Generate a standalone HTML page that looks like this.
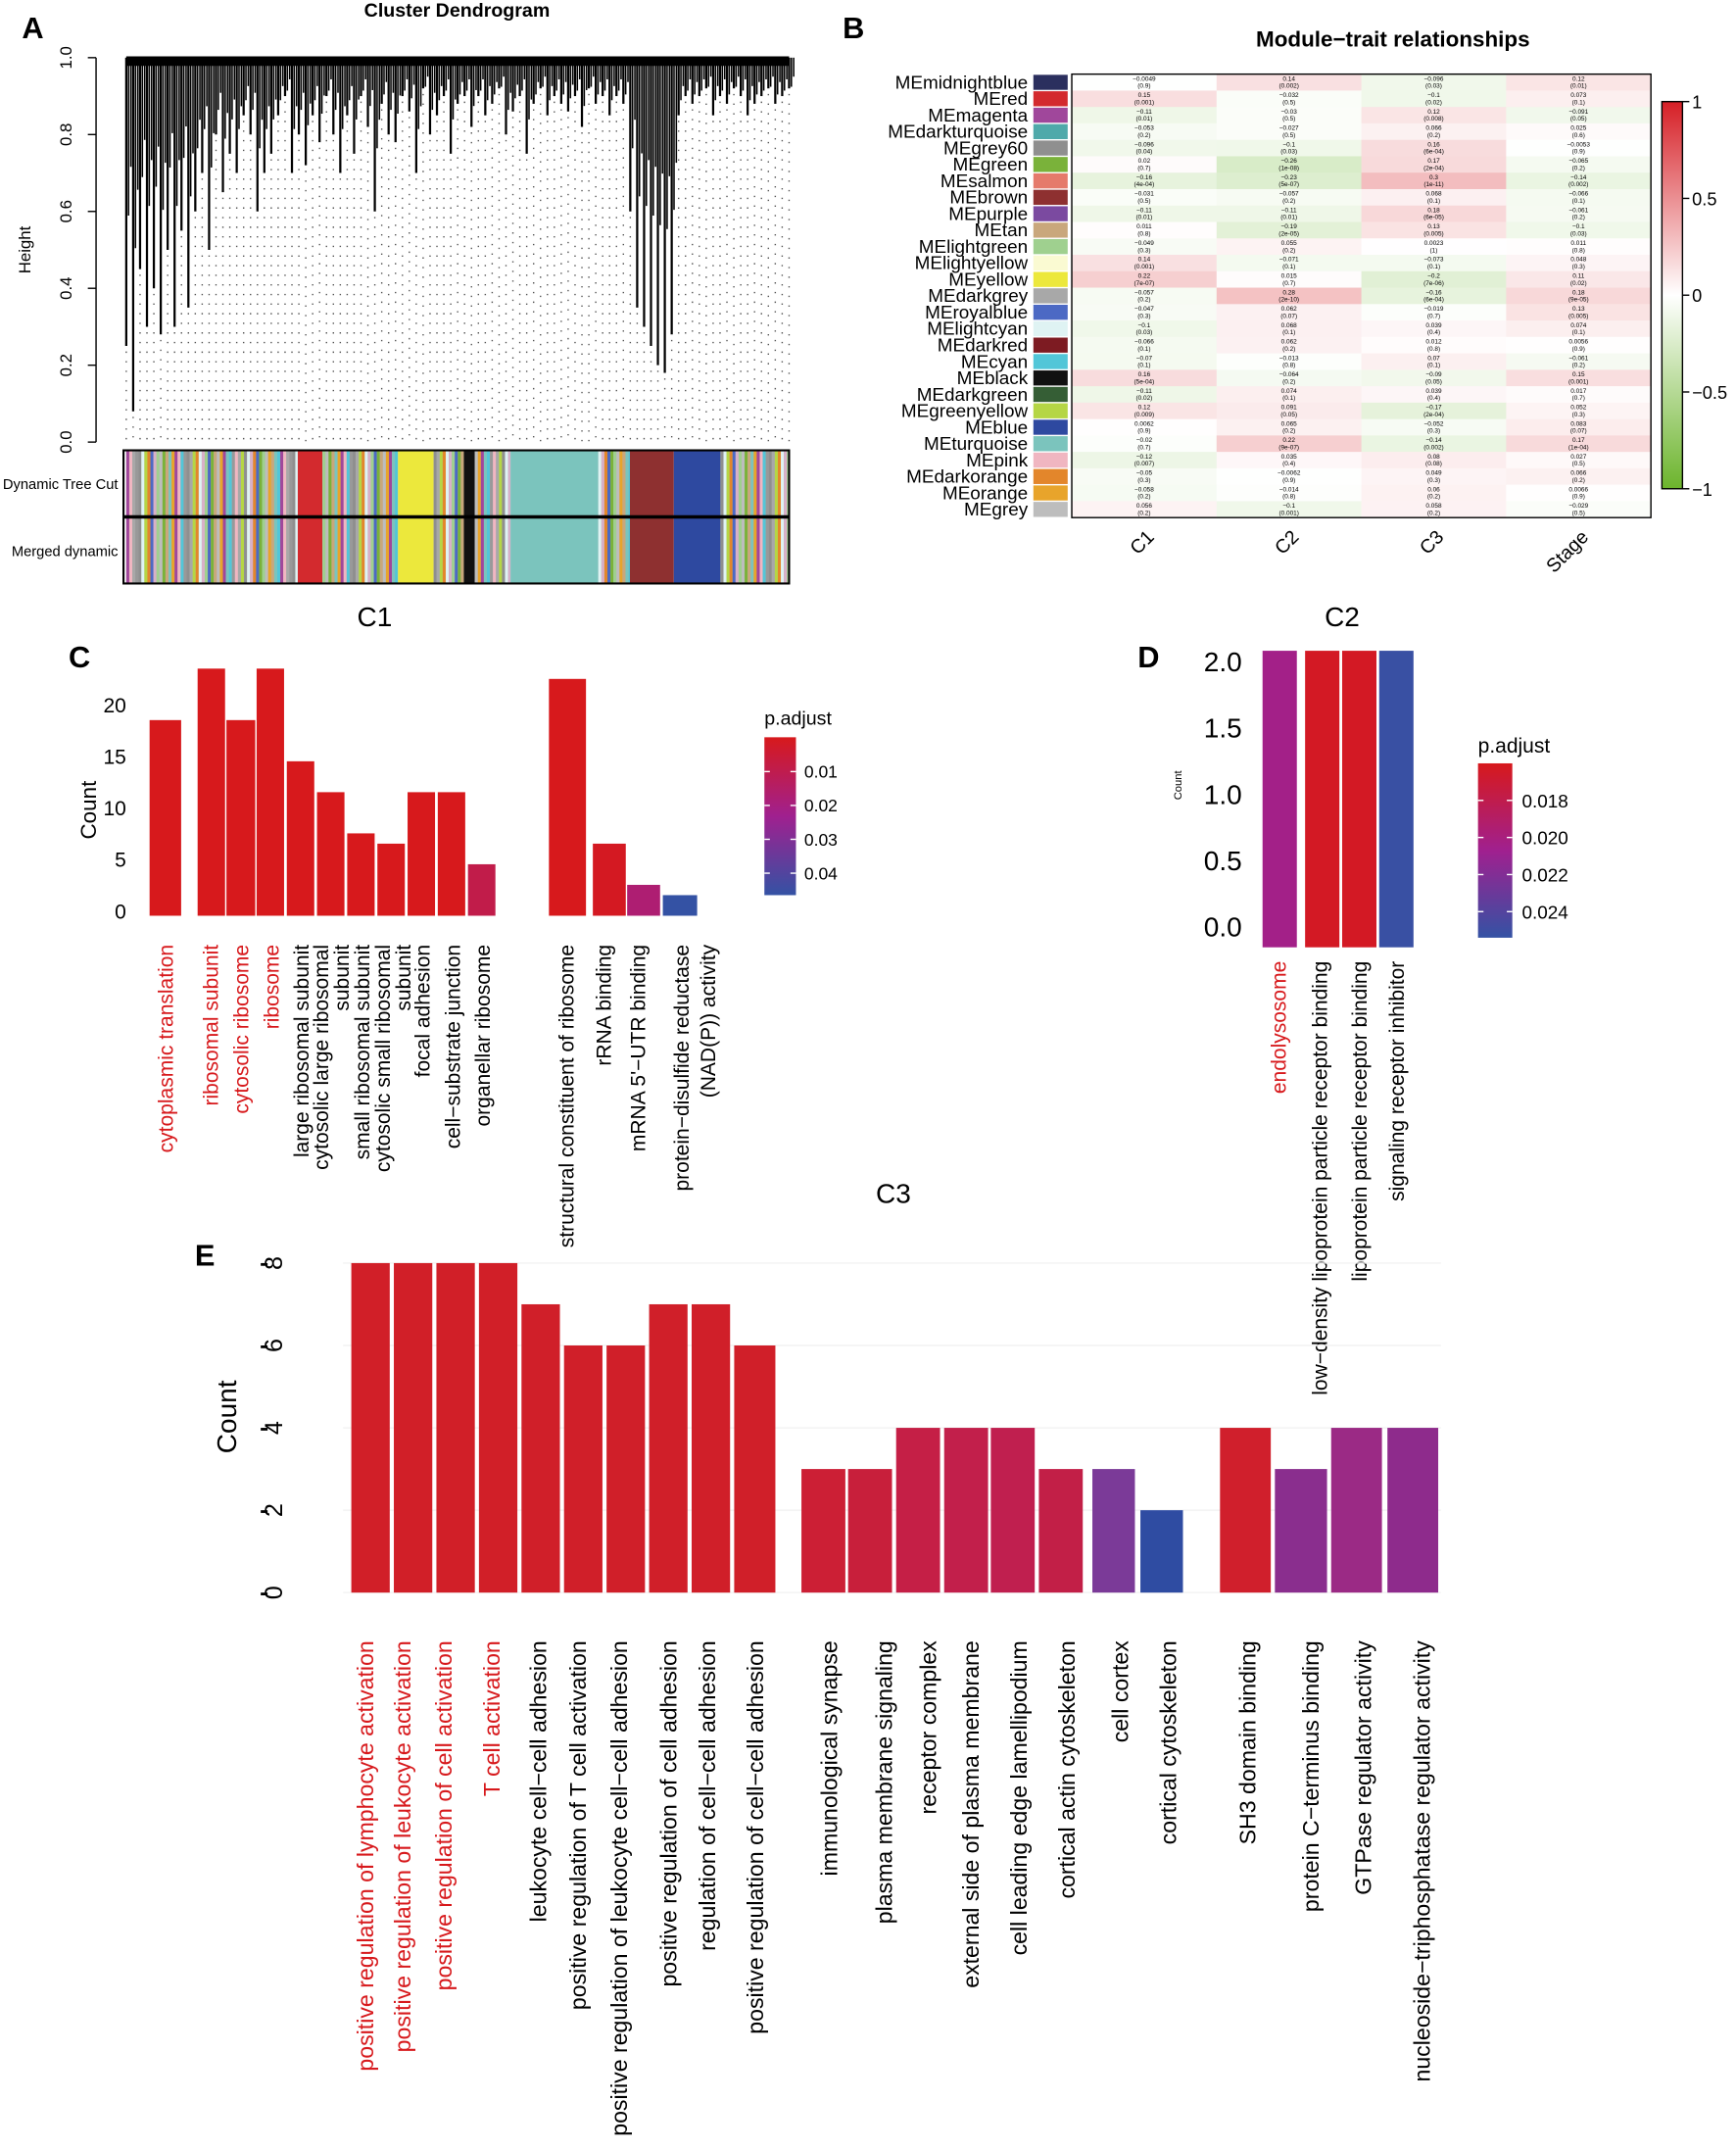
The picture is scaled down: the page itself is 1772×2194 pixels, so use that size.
<!DOCTYPE html>
<html><head><meta charset="utf-8"><style>
html,body{margin:0;padding:0;background:#fff}
svg{display:block;font-family:"Liberation Sans",Arial,sans-serif}
</style></head><body>
<svg id="fig" xmlns="http://www.w3.org/2000/svg" width="1772" height="2194" viewBox="0 0 1265 1566" preserveAspectRatio="none">
<g id="A"></g>
<g id="B"></g>
<g id="C"></g>
<g id="D"></g>
<g id="E"></g>
</svg>
<script>
// ===== data =====
const leafHeights=[0.25,0.08,0.45,0.3,0.4,0.28,0.5,0.3,0.55,0.35,
0.6,0.7,0.5,0.8,0.65,0.75,0.7,0.85,0.8,0.6,0.7,0.75,0.85,0.9,0.7,0.8,0.72,0.85,0.78,0.9,
0.8,0.7,0.85,0.75,0.9,0.82,0.6,0.88,0.8,0.78,0.9,0.86,0.7,0.92,0.8,0.85,0.9,0.75,0.88,0.9,
0.82,0.9,0.85,0.88,0.92,0.8,0.86,0.9,0.75,0.88,0.92,0.85,0.9,0.88,0.86,0.9,0.82,0.92,0.88,0.9,
0.85,0.9,0.88,0.6,0.35,0.3,0.25,0.2,0.18,0.28,0.85,0.9,
0.88,0.9,0.92,0.85,0.9,0.88,0.92,0.9,0.85,0.88,0.9,0.92,0.88,0.9,0.92];
const aTicks=[0,0.2,0.4,0.6,0.8,1.0];

const modules=["MEmidnightblue","MEred","MEmagenta","MEdarkturquoise","MEgrey60","MEgreen","MEsalmon","MEbrown","MEpurple","MEtan","MElightgreen","MElightyellow","MEyellow","MEdarkgrey","MEroyalblue","MElightcyan","MEdarkred","MEcyan","MEblack","MEdarkgreen","MEgreenyellow","MEblue","MEturquoise","MEpink","MEdarkorange","MEorange","MEgrey"];
const moduleColors=["#2b2f5e","#d32a2e","#a0479b","#4fa9aa","#8f8f8f","#7ab23a","#e57a6b","#8e3030","#7b4aa0","#c9a77c","#9fd08f","#fafad2","#ece83c","#a8a8a8","#4c69c4","#dff3f3","#7d1b22","#52c6d8","#111111","#355e35","#b5d645","#2e49a0","#7bc4bd","#f0b6c1","#e3862b","#e8a42b","#bdbdbd"];
const traits=["C1","C2","C3","Stage"];
const corC1=[-0.0049,0.15,-0.11,-0.053,-0.096,0.02,-0.16,-0.031,-0.11,0.011,-0.049,0.14,0.22,-0.057,-0.047,-0.1,-0.066,-0.07,0.16,-0.11,0.12,0.0062,-0.02,-0.12,-0.05,-0.058,0.056];
const corC2=[0.14,-0.032,-0.03,-0.027,-0.1,-0.26,-0.23,-0.057,-0.11,-0.19,0.055,-0.071,0.015,0.28,0.062,0.068,0.062,-0.013,-0.064,0.074,0.091,0.065,0.22,0.035,-0.0062,-0.014,-0.1];
const corC3=[-0.096,-0.1,0.12,0.066,0.16,0.17,0.3,0.068,0.18,0.13,0.0023,-0.073,-0.2,-0.16,-0.019,0.039,0.012,0.07,-0.09,0.039,-0.17,-0.052,-0.14,0.08,0.049,0.06,0.058];
const corStage=[0.12,0.073,-0.091,0.025,-0.0053,-0.065,-0.14,-0.066,-0.061,-0.1,0.011,0.048,0.11,0.18,0.13,0.074,0.0056,-0.061,0.15,0.017,0.052,0.083,0.17,0.027,0.066,0.0066,-0.029];
const pC1=["0.9","0.001","0.01","0.2","0.04","0.7","4e-04","0.5","0.01","0.8","0.3","0.001","7e-07","0.2","0.3","0.03","0.1","0.1","5e-04","0.02","0.009","0.9","0.7","0.007","0.3","0.2","0.2"];
const pC2=["0.002","0.5","0.5","0.5","0.03","1e-08","5e-07","0.2","0.01","2e-05","0.2","0.1","0.7","2e-10","0.07","0.1","0.2","0.8","0.2","0.1","0.05","0.2","9e-07","0.4","0.9","0.8","0.001"];
const pC3=["0.03","0.02","0.008","0.2","6e-04","2e-04","1e-11","0.1","6e-05","0.005","1","0.1","7e-06","6e-04","0.7","0.4","0.8","0.1","0.05","0.4","2e-04","0.3","0.002","0.08","0.3","0.2","0.2"];
const pStage=["0.01","0.1","0.05","0.6","0.9","0.2","0.002","0.1","0.2","0.03","0.8","0.3","0.02","9e-05","0.005","0.1","0.9","0.2","0.001","0.7","0.3","0.07","1e-04","0.5","0.2","0.9","0.5"];
const cbTicks=[1,0.5,0,-0.5,-1];

const cTerms=["cytoplasmic translation","ribosomal subunit","cytosolic ribosome","ribosome","large ribosomal subunit","cytosolic large ribosomal subunit","small ribosomal subunit","cytosolic small ribosomal subunit","focal adhesion","cell−substrate junction","organellar ribosome","structural constituent of ribosome","rRNA binding","mRNA 5'−UTR binding","protein−disulfide reductase (NAD(P)) activity"];
const cCounts=[19,24,19,24,15,12,8,7,12,12,5,23,7,3,2];
const cPadj=[0.005,0.005,0.005,0.005,0.005,0.005,0.005,0.005,0.005,0.005,0.013,0.005,0.006,0.02,0.045];
const cTicks=[0,5,10,15,20];
const cLegTicks=[0.01,0.02,0.03,0.04];

const dTerms=["endolysosome","low−density lipoprotein particle receptor binding","lipoprotein particle receptor binding","signaling receptor inhibitor"];
const dCounts=[2,2,2,2];
const dPadj=[0.0205,0.0168,0.0168,0.0248];
const dTicks=[0,0.5,1.0,1.5,2.0];
const dLegTicks=[0.018,0.020,0.022,0.024];

const eTerms=["positive regulation of  lymphocyte activation","positive regulation of  leukocyte activation","positive regulation of cell activation","T cell activation","leukocyte cell−cell adhesion","positive regulation of T  cell activation","positive regulation of  leukocyte cell−cell adhesion","positive regulation of cell  adhesion","regulation of cell−cell  adhesion","positive regulation of  cell−cell adhesion","immunological synapse","plasma membrane signaling","receptor complex","external side of plasma  membrane","cell leading edge  lamellipodium","cortical actin cytoskeleton","cell cortex","cortical cytoskeleton","SH3 domain binding","protein C−terminus binding","GTPase regulator activity","nucleoside−triphosphatase  regulator activity"];
const eCounts=[8,8,8,8,7,6,6,7,7,6,3,3,4,4,4,3,3,2,4,3,4,4];
const eColors=["#d11f28","#d11f28","#d11f28","#d11f28","#d01f29","#d01f29","#d01f29","#d01f29","#d01f29","#d01f29","#cc1f35","#c81f3b","#c51f46","#c21f4b","#c01f4f","#c21f47","#7b3a98","#2f4ca2","#d01f2c","#8a2e8e","#9b2a85","#8e2b8c"];
const eTicks=[0,2,4,6,8];

// ===== helpers =====
const NS="http://www.w3.org/2000/svg";
function mk(parent,tag,attrs,txt){const e=document.createElementNS(NS,tag);for(const k in attrs)e.setAttribute(k,attrs[k]);if(txt!==undefined)e.textContent=txt;parent.appendChild(e);return e;}
function lerp(a,b,t){return Math.round(a+(b-a)*t);}
function hex(c){return [parseInt(c.slice(1,3),16),parseInt(c.slice(3,5),16),parseInt(c.slice(5,7),16)];}
function mixC(c1,c2,t){const a=hex(c1),b=hex(c2);return `rgb(${lerp(a[0],b[0],t)},${lerp(a[1],b[1],t)},${lerp(a[2],b[2],t)})`;}
function padjColor(p,lo,hi){const t=Math.max(0,Math.min(1,(p-lo)/(hi-lo)));return t<0.5?mixC("#d7191c","#a0208f",t*2):mixC("#a0208f","#3452a4",(t-0.5)*2);}

// ===== Panel A =====
const A=document.getElementById('A');
let t=mk(A,'text',{x:16,y:28,'font-size':22,'font-weight':'bold'},'A');
t=mk(A,'text',{x:333,y:12,'font-size':14,'font-weight':'bold','text-anchor':'middle'},'Cluster Dendrogram');

const ayTop=42,ayBot=322,ax0=92,ax1=575;
const ay=v=>ayBot-(ayBot-ayTop)*v;
mk(A,'line',{x1:70,y1:ay(0),x2:70,y2:ay(1),stroke:'#000'});
aTicks.forEach(v=>{mk(A,'line',{x1:64,y1:ay(v),x2:70,y2:ay(v),stroke:'#000'});
 const tt=mk(A,'text',{transform:`translate(52,${ay(v)}) rotate(-90)`,'font-size':12,'text-anchor':'middle'},v.toFixed(1));
 });
t=mk(A,'text',{transform:'translate(22,182) rotate(-90)','font-size':12,'text-anchor':'middle'},'Height');

const dg=mk(A,'g',{});
const step=(ax1-ax0)/(leafHeights.length-1);
leafHeights.forEach((h,i)=>{const x=ax0+i*step;
 mk(dg,'line',{x1:x,y1:ay(h)+4,x2:x,y2:ayBot,stroke:'#555','stroke-width':1,'stroke-dasharray':'1,6'});
 mk(dg,'line',{x1:x,y1:ayTop,x2:x,y2:ay(h),stroke:'#000','stroke-width':1.6});
 mk(dg,'line',{x1:x+step/3,y1:ayTop,x2:x+step/3,y2:(ay(h)+ayTop)/2+10,stroke:'#000','stroke-width':1.1});
 mk(dg,'line',{x1:x+2*step/3,y1:ayTop,x2:x+2*step/3,y2:ayTop+(ay(h)-ayTop)*0.35+6,stroke:'#000','stroke-width':1.1});
});
mk(dg,'rect',{x:ax0,y:ayTop,width:ax1-ax0,height:6,fill:'#000'});
mk(dg,'line',{x1:ax0,y1:ayTop,x2:ax1,y2:ayTop,stroke:'#000','stroke-width':2});
// color bars
const pal=["#a0479b","#c9a77c","#9fd08f","#e3862b","#8f8f8f","#f0b6c1","#7bc4bd","#bdbdbd","#4c69c4","#dff3f3","#a8a8a8","#52c6d8","#e8a42b","#7ab23a","#d8b0c8","#b5d645","#999999"];
const blocks=[[92,217,'mix'],[217,235,'#d32a2e'],[235,290,'mix'],[290,316,'#ece83c'],[316,338,'mix'],[338,346,'#111'],[346,372,'mix'],[372,436,'#7bc4bd'],[436,459,'mix'],[459,491,'#8e3030'],[491,525,'#2e49a0'],[525,575,'mix']];
[[328,376,'dynamic-tree-cut-bar'],[377,425,'merged-dynamic-bar']].forEach(([y0,y1,nm],r)=>{
 const g=mk(A,'g',{});
 blocks.forEach(([x0,x1,c],bi)=>{
  if(c!=='mix'){mk(g,'rect',{x:x0,y:y0,width:x1-x0,height:y1-y0,fill:c});}
  else{mk(g,'rect',{x:x0,y:y0,width:x1-x0,height:y1-y0,fill:'#b0b0b0'});
   for(let x=x0,k=bi*5;x<x1;x+=2.2,k++){mk(g,'rect',{x:x,y:y0,width:Math.min(2.2,x1-x),height:y1-y0,fill:pal[(k*5+Math.floor(k/3))%pal.length]});}}
 });
 mk(g,'rect',{x:90,y:y0,width:485,height:y1-y0,fill:'none',stroke:'#000','stroke-width':1.5});
});
t=mk(A,'text',{x:86,y:356,'font-size':10.5,'text-anchor':'end'},'Dynamic Tree Cut');
t=mk(A,'text',{x:86,y:405,'font-size':10.5,'text-anchor':'end'},'Merged dynamic');

// ===== Panel B =====
const B=document.getElementById('B');
t=mk(B,'text',{x:614,y:28,'font-size':22,'font-weight':'bold'},'B');
t=mk(B,'text',{x:1015,y:34,'font-size':16,'font-weight':'bold','text-anchor':'middle'},'Module−trait relationships');
const hx0=781,hx1=1203,hy0=54,hy1=377;
const rowH=(hy1-hy0)/modules.length,colW=(hx1-hx0)/traits.length;
const corCols=[corC1,corC2,corC3,corStage],pCols=[pC1,pC2,pC3,pStage];
function corColor(v){return v>=0?mixC("#ffffff","#d6242a",Math.min(1,v)):mixC("#ffffff","#6ab42d",Math.min(1,-v));}
modules.forEach((m,i)=>{const y=hy0+i*rowH;
 const lt=mk(B,'text',{x:749,y:y+rowH/2+4.5,'font-size':13.5,'text-anchor':'end'},m);
 const sw=mk(B,'rect',{x:753,y:y+0.5,width:25,height:rowH-1,fill:moduleColors[i]});
 corCols.forEach((col,j)=>{const x=hx0+j*colW;
  const c=mk(B,'rect',{x:x,y:y,width:colW+0.3,height:rowH+0.3,fill:corColor(col[i])});
  mk(B,'text',{x:x+colW/2,y:y+4.8,'font-size':4.6,'text-anchor':'middle'},String(col[i]).replace('-','−'));
  mk(B,'text',{x:x+colW/2,y:y+10,'font-size':4.6,'text-anchor':'middle'},'('+pCols[j][i]+')');
 });
});
mk(B,'rect',{x:hx0,y:hy0,width:hx1-hx0,height:hy1-hy0,fill:'none',stroke:'#000','stroke-width':1});
traits.forEach((tr,j)=>{const x=hx0+j*colW+colW/2;
 const tt=mk(B,'text',{transform:`translate(${x+8},${392}) rotate(-45)`,'font-size':14,'text-anchor':'end'},tr);});
// colorbar
const cbY=v=>215-v*141;
const gd=mk(B,'defs',{});const lg=mk(gd,'linearGradient',{id:'cbg',x1:0,y1:0,x2:0,y2:1});
mk(lg,'stop',{offset:0,'stop-color':'#d61f26'});mk(lg,'stop',{offset:0.5,'stop-color':'#ffffff'});mk(lg,'stop',{offset:1,'stop-color':'#6cb42c'});
t=mk(B,'rect',{x:1211,y:cbY(1),width:15,height:cbY(-1)-cbY(1),fill:'url(#cbg)',stroke:'#000'});
cbTicks.forEach(v=>{mk(B,'line',{x1:1226,y1:cbY(v),x2:1231,y2:cbY(v),stroke:'#000'});
 const tt=mk(B,'text',{x:1233,y:cbY(v)+5,'font-size':13},v<0?'−'+Math.abs(v):String(v));});

// ===== Panel C =====
const C=document.getElementById('C');
t=mk(C,'text',{x:50,y:486,'font-size':22,'font-weight':'bold'},'C');
t=mk(C,'text',{x:273,y:456,'font-size':20,'text-anchor':'middle'},'C1');
const cBase=667,cy=v=>cBase-7.5*v;
cTicks.forEach(v=>{const tt=mk(C,'text',{x:92,y:cy(v)+2,'font-size':15,'text-anchor':'end'},String(v));});
t=mk(C,'text',{transform:'translate(70,590) rotate(-90)','font-size':16,'text-anchor':'middle'},'Count');
const cX=[[109,132],[144,164],[165,186],[187,207],[209,229],[231,251],[253,273],[275,295],[297,317],[319,339],[341,361],[400,427],[432,456],[457,481],[483,508]];
cCounts.forEach((v,i)=>{const [x0,x1]=cX[i];
 const r=mk(C,'rect',{x:x0,y:cy(v),width:x1-x0,height:cBase-cy(v),fill:padjColor(cPadj[i],0.005,0.045)});
 
});
const cRed=[0,1,2,3];
const cLabelSpec=[[121,"cytoplasmic translation",0],[154,"ribosomal subunit",1],[176,"cytosolic ribosome",2],[198,"ribosome",3],[220,"large ribosomal subunit",4],[234,"cytosolic large ribosomal",5],[249,"subunit",5],[264,"small ribosomal subunit",6],[279,"cytosolic small ribosomal",7],[294,"subunit",7],[308,"focal adhesion",8],[330,"cell−substrate junction",9],[352,"organellar ribosome",10],[413,"structural constituent of ribosome",11],[440,"rRNA binding",12],[465,"mRNA 5'−UTR binding",13],[497,"protein−disulfide reductase",14],[516,"(NAD(P)) activity",14]];
cLabelSpec.forEach(([x,s,i])=>{const tt=mk(C,'text',{transform:`translate(${x+5},688) rotate(-90)`,'font-size':15,'text-anchor':'end',fill:cRed.includes(i)?'#d7191c':'#000'},s);
 });
// legend
const cl=mk(C,'defs',{});const clg=mk(cl,'linearGradient',{id:'padjC',x1:0,y1:0,x2:0,y2:1});
mk(clg,'stop',{offset:0,'stop-color':'#d7191c'});mk(clg,'stop',{offset:0.5,'stop-color':'#a0208f'});mk(clg,'stop',{offset:1,'stop-color':'#3452a4'});
t=mk(C,'text',{x:557,y:528,'font-size':14},'p.adjust');
t=mk(C,'rect',{x:557,y:537,width:23,height:115,fill:'url(#padjC)'});
const cly=v=>562+(v-0.01)*2466.7;
cLegTicks.forEach(v=>{mk(C,'line',{x1:557,y1:cly(v),x2:561,y2:cly(v),stroke:'#fff'});mk(C,'line',{x1:576,y1:cly(v),x2:580,y2:cly(v),stroke:'#fff'});
 const tt=mk(C,'text',{x:586,y:cly(v)+4.5,'font-size':12.5},v.toFixed(2));});

// ===== Panel D =====
const D=document.getElementById('D');
t=mk(D,'text',{x:829,y:486,'font-size':22,'font-weight':'bold'},'D');
t=mk(D,'text',{x:978,y:456,'font-size':20,'text-anchor':'middle'},'C2');
const dy=v=>672-96.5*v;
dTicks.forEach(v=>{const tt=mk(D,'text',{x:905,y:dy(v)+10,'font-size':20,'text-anchor':'end'},v.toFixed(1));});
t=mk(D,'text',{transform:'translate(861,572) rotate(-90)','font-size':8,'text-anchor':'middle'},'Count');
const dX=[[920,945],[951,976],[978,1003],[1005,1030]];
dCounts.forEach((v,i)=>{const r=mk(D,'rect',{x:dX[i][0],y:dy(v)-5,width:dX[i][1]-dX[i][0],height:690-dy(v)+5,fill:padjColor(dPadj[i],0.0165,0.025)});
 });
[932,962,991,1018].forEach((x,i)=>{const tt=mk(D,'text',{transform:`translate(${x+5},700) rotate(-90)`,'font-size':15,'text-anchor':'end',fill:i===0?'#d7191c':'#000'},dTerms[i]);
 });
const dl=mk(D,'defs',{});const dlg=mk(dl,'linearGradient',{id:'padjD',x1:0,y1:0,x2:0,y2:1});
mk(dlg,'stop',{offset:0,'stop-color':'#d7191c'});mk(dlg,'stop',{offset:0.5,'stop-color':'#a0208f'});mk(dlg,'stop',{offset:1,'stop-color':'#3452a4'});
t=mk(D,'text',{x:1077,y:548,'font-size':15},'p.adjust');
t=mk(D,'rect',{x:1077,y:556,width:25,height:127,fill:'url(#padjD)'});
const dly=v=>583+(v-0.018)*13500;
dLegTicks.forEach(v=>{mk(D,'line',{x1:1077,y1:dly(v),x2:1081,y2:dly(v),stroke:'#fff'});mk(D,'line',{x1:1098,y1:dly(v),x2:1102,y2:dly(v),stroke:'#fff'});
 const tt=mk(D,'text',{x:1109,y:dly(v)+5,'font-size':13.5},v.toFixed(3));});

// ===== Panel E =====
const E=document.getElementById('E');
t=mk(E,'text',{x:142,y:922,'font-size':22,'font-weight':'bold'},'E');
t=mk(E,'text',{x:651,y:876,'font-size':20,'text-anchor':'middle'},'C3');
const eBase=1160,ey=v=>eBase-30*v;
eTicks.forEach(v=>{mk(E,'line',{x1:190,y1:ey(v)+1,x2:195,y2:ey(v)+1,stroke:'#000','stroke-width':2});
 const tt=mk(E,'text',{transform:`translate(201,${ey(v)}) rotate(-90)`,'font-size':18,'text-anchor':'middle','dominant-baseline':'middle'},String(v));
 });
t=mk(E,'text',{transform:'translate(172,1032) rotate(-90)','font-size':20,'text-anchor':'middle'},'Count');
eTicks.forEach(v=>{mk(E,'line',{x1:250,y1:ey(v),x2:1050,y2:ey(v),stroke:'#f2f2f2'});});
const eX=[[256,284],[287,315],[318,346],[349,377],[380,408],[411,439],[442,470],[473,501],[504,532],[535,565],[584,616],[618,650],[653,685],[688,720],[722,754],[757,789],[796,827],[831,862],[889,926],[929,967],[970,1007],[1011,1048]];
eCounts.forEach((v,i)=>{const r=mk(E,'rect',{x:eX[i][0],y:ey(v),width:eX[i][1]-eX[i][0],height:eBase-ey(v),fill:eColors[i]});
 });
const eLabX=[266,293,323,358,392,421,451,487,515,550,604,644,676,707,742,777,816,851,909,955,993,1036];
eTerms.forEach((s,i)=>{const tt=mk(E,'text',{transform:`translate(${eLabX[i]+6},1195) rotate(-90)`,'font-size':16.5,'text-anchor':'end',fill:i<4?'#d7191c':'#000','xml:space':'preserve'},s);
 });
</script>
</body></html>
